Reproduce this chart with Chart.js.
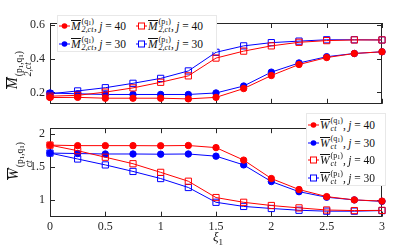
<!DOCTYPE html>
<html><head><meta charset="utf-8">
<script src="https://cdn.jsdelivr.net/npm/chart.js@4/dist/chart.umd.min.js"></script>
<style>
body{margin:0;background:#fff;}
#wrap{position:relative;width:415px;height:249px;overflow:hidden;font-family:"Liberation Serif","DejaVu Serif",serif;color:#111;}
canvas{position:absolute;left:0;}
#c1{top:0;} #c2{top:116px;}
.ov{font-style:italic;border-top:0.8px solid #111;line-height:11px;display:inline-block;}
.it{font-style:italic;}
.ss{display:inline-flex;flex-direction:column;font-size:8px;line-height:8px;vertical-align:-4px;margin-left:1px;}
.ss sub{font-size:6px;vertical-align:-1px;line-height:0;}
.leg{position:absolute;background:#fff;border:1px solid #e8e8e8;font-size:11.5px;box-sizing:border-box;}
.row{position:absolute;display:flex;align-items:center;white-space:nowrap;height:17px;}
.item{display:flex;align-items:center;}
.item svg{margin-right:1px;}
.ytitle{position:absolute;transform:translate(-50%,-50%) rotate(-90deg);white-space:nowrap;font-size:14px;}
.ytitle .ss{font-size:9.5px;line-height:9px;vertical-align:-5px;}
.ytitle .ss sub{font-size:7px;}
.xtitle{position:absolute;transform:translate(-50%,-50%);font-size:13px;font-style:italic;}
.xtitle sub{font-style:normal;font-size:9px;}
</style></head>
<body>
<div id="wrap">
<canvas id="c1" width="415" height="116"></canvas>
<canvas id="c2" width="415" height="133"></canvas>

<div class="ytitle" style="left:19px;top:70px;"><span class="ov">M</span><span class="ss"><span>(p<sub>1</sub>,q<sub>1</sub>)</span><span class="it">2,ct</span></span></div>
<div class="ytitle" style="left:20px;top:161px;"><span class="ov">W</span><span class="ss"><span>(p<sub>1</sub>,q<sub>1</sub>)</span><span class="it">ct</span></span></div>
<div class="xtitle" style="left:218px;top:238px;">ξ<sub>1</sub></div>

<div class="leg" id="leg1" style="left:57px;top:15px;width:160px;height:37px;"></div>
<div class="leg" id="leg2" style="left:306px;top:113px;width:80px;height:73px;"></div>
</div>
<script>
// ---- data ----
const xVals = [0, 0.25, 0.5, 0.75, 1, 1.25, 1.5, 1.75, 2, 2.25, 2.5, 2.75, 3];
const xTicks = [0, 0.5, 1, 1.5, 2, 2.5, 3];
const topYTicks = [0.2, 0.4, 0.6];
const botYTicks = [1, 1.5, 2];

const M_q1_j40 = [0.170, 0.171, 0.166, 0.166, 0.166, 0.162, 0.171, 0.223, 0.300, 0.365, 0.406, 0.430, 0.440];
const M_q1_j30 = [0.197, 0.192, 0.188, 0.188, 0.188, 0.188, 0.197, 0.238, 0.320, 0.374, 0.411, 0.430, 0.440];
const M_p1_j40 = [0.178, 0.183, 0.202, 0.227, 0.260, 0.298, 0.403, 0.444, 0.475, 0.496, 0.506, 0.510, 0.510];
const M_p1_j30 = [0.192, 0.209, 0.228, 0.254, 0.283, 0.327, 0.437, 0.475, 0.494, 0.503, 0.511, 0.511, 0.510];

const W_q1_j40 = [1.828, 1.820, 1.820, 1.820, 1.818, 1.822, 1.790, 1.600, 1.320, 1.153, 1.045, 0.995, 0.977];
const W_q1_j30 = [1.707, 1.700, 1.693, 1.693, 1.690, 1.693, 1.660, 1.527, 1.274, 1.120, 1.036, 0.995, 0.973];
const W_p1_j40 = [1.828, 1.743, 1.644, 1.545, 1.414, 1.279, 1.031, 0.959, 0.910, 0.874, 0.842, 0.833, 0.836];
const W_p1_j30 = [1.707, 1.617, 1.527, 1.428, 1.320, 1.184, 0.959, 0.896, 0.865, 0.838, 0.824, 0.824, 0.833];

const RED = '#ff0000', BLUE = '#0000ff', AX = '#262626';
const FONT = {family: '"Liberation Serif","DejaVu Serif",serif', size: 12};

function pts(ys){ return xVals.map((x,i)=>({x:x, y:ys[i]})); }
function ds(ys, color, filled){
  return {
    data: pts(ys), borderColor: color, borderWidth: 1,
    backgroundColor: filled ? color : 'rgba(255,255,255,0)',
    pointBackgroundColor: filled ? color : 'rgba(255,255,255,0)',
    pointBorderColor: color, pointBorderWidth: 1,
    pointStyle: filled ? 'circle' : 'rect',
    pointRadius: filled ? 3.2 : 4.4, pointHoverRadius: filled ? 3.2 : 4.4,
    tension: 0, clip: false
  };
}

const boxPlugin = {
  id: 'box',
  beforeDatasetsDraw(chart){
    const {ctx, chartArea: a, scales} = chart;
    ctx.save();
    ctx.strokeStyle = AX; ctx.lineWidth = 1;
    ctx.strokeRect(Math.round(a.left)+0.5, Math.round(a.top)+0.5, Math.round(a.right-a.left)-1, Math.round(a.bottom-a.top)-1);
    const L = 5;
    ctx.beginPath();
    scales.x.ticks.forEach(t=>{
      const px = Math.round(scales.x.getPixelForValue(t.value))+0.5;
      ctx.moveTo(px, a.bottom); ctx.lineTo(px, a.bottom-L);
      ctx.moveTo(px, a.top); ctx.lineTo(px, a.top+L);
    });
    scales.y.ticks.forEach(t=>{
      const py = Math.round(scales.y.getPixelForValue(t.value))+0.5;
      ctx.moveTo(a.left, py); ctx.lineTo(a.left+L, py);
      ctx.moveTo(a.right, py); ctx.lineTo(a.right-L, py);
    });
    ctx.stroke();
    ctx.restore();
  }
};

function baseOpts(yMin, yMax, yTicks, showXLabels, pad){
  return {
    responsive: false, devicePixelRatio: 1, animation: false,
    layout: {padding: pad},
    plugins: {legend: {display: false}, tooltip: {enabled: false}},
    events: [],
    scales: {
      x: {
        type: 'linear', min: 0, max: 3, display: showXLabels,
        afterBuildTicks: s => { s.ticks = xTicks.map(v=>({value:v})); },
        afterFit: s => { if (showXLabels) s.height = 32.3; },
        grid: {display: false, drawTicks: false}, border: {display: false},
        ticks: {font: FONT, color: AX, padding: 3, maxRotation: 0, autoSkip: false,
                callback: v => String(v)}
      },
      y: {
        type: 'linear', min: yMin, max: yMax,
        afterBuildTicks: s => { s.ticks = yTicks.map(v=>({value:v})); },
        afterFit: s => { s.width = 50; },
        grid: {display: false, drawTicks: false}, border: {display: false},
        ticks: {font: FONT, color: AX, padding: 5, autoSkip: false, callback: v => String(v)}
      }
    }
  };
}

new Chart(document.getElementById('c1'), {
  type: 'line',
  data: {datasets: [
    ds(M_q1_j40, RED, true), ds(M_p1_j40, RED, false),
    ds(M_q1_j30, BLUE, true), ds(M_p1_j30, BLUE, false)
  ]},
  options: baseOpts(0.133, 0.61, topYTicks, false, {left: 0, top: 23, right: 33, bottom: 0}),
  plugins: [boxPlugin]
});

new Chart(document.getElementById('c2'), {
  type: 'line',
  data: {datasets: [
    ds(W_q1_j40, RED, true), ds(W_p1_j40, RED, false),
    ds(W_q1_j30, BLUE, true), ds(W_p1_j30, BLUE, false)
  ]},
  options: baseOpts(0.74, 2.085, botYTicks, true, {left: 0, top: 1, right: 33, bottom: 0}),
  plugins: [boxPlugin]
});

// ---- legends ----
function marker(color, filled){
  const shape = filled
    ? `<circle cx="5.5" cy="5" r="2.8" fill="${color}"/>`
    : `<rect x="2.5" y="2" width="6" height="6" fill="#fff" stroke="${color}" stroke-width="1"/>`;
  return `<svg width="11" height="10"><line x1="0" y1="5" x2="11" y2="5" stroke="${color}" stroke-width="1"/>${shape}</svg>`;
}
function mlabel(sym, sup, sub, j){
  return `<span class="ov">${sym}</span><span class="ss"><span>(${sup}<sub>1</sub>)</span><span class="it">${sub}</span></span><span>,&thinsp;<span class="it">j</span> = ${j}</span>`;
}
const leg1Items = [
  [RED, true, 'q', 40], [RED, false, 'p', 40],
  [BLUE, true, 'q', 30], [BLUE, false, 'p', 30]
];
let h1 = '';
leg1Items.forEach((it, i)=>{
  const row = Math.floor(i/2), col = i%2;
  h1 += `<div class="row" style="left:1px;left:${1+col*77}px;top:${1+row*18}px;"><div class="item">${marker(it[0],it[1])}${mlabel('M', it[2], '2,ct', it[3])}</div></div>`;
});
document.getElementById('leg1').innerHTML = h1;

const leg2Items = [
  [RED, true, 'q', 40], [BLUE, true, 'q', 30],
  [RED, false, 'p', 40], [BLUE, false, 'p', 30]
];
let h2 = '';
leg2Items.forEach((it, i)=>{
  h2 += `<div class="row" style="left:1px;top:${2.5+i*17.7}px;"><div class="item">${marker(it[0],it[1])}${mlabel('W', it[2], 'ct', it[3])}</div></div>`;
});
document.getElementById('leg2').innerHTML = h2;
</script>
</body></html>
